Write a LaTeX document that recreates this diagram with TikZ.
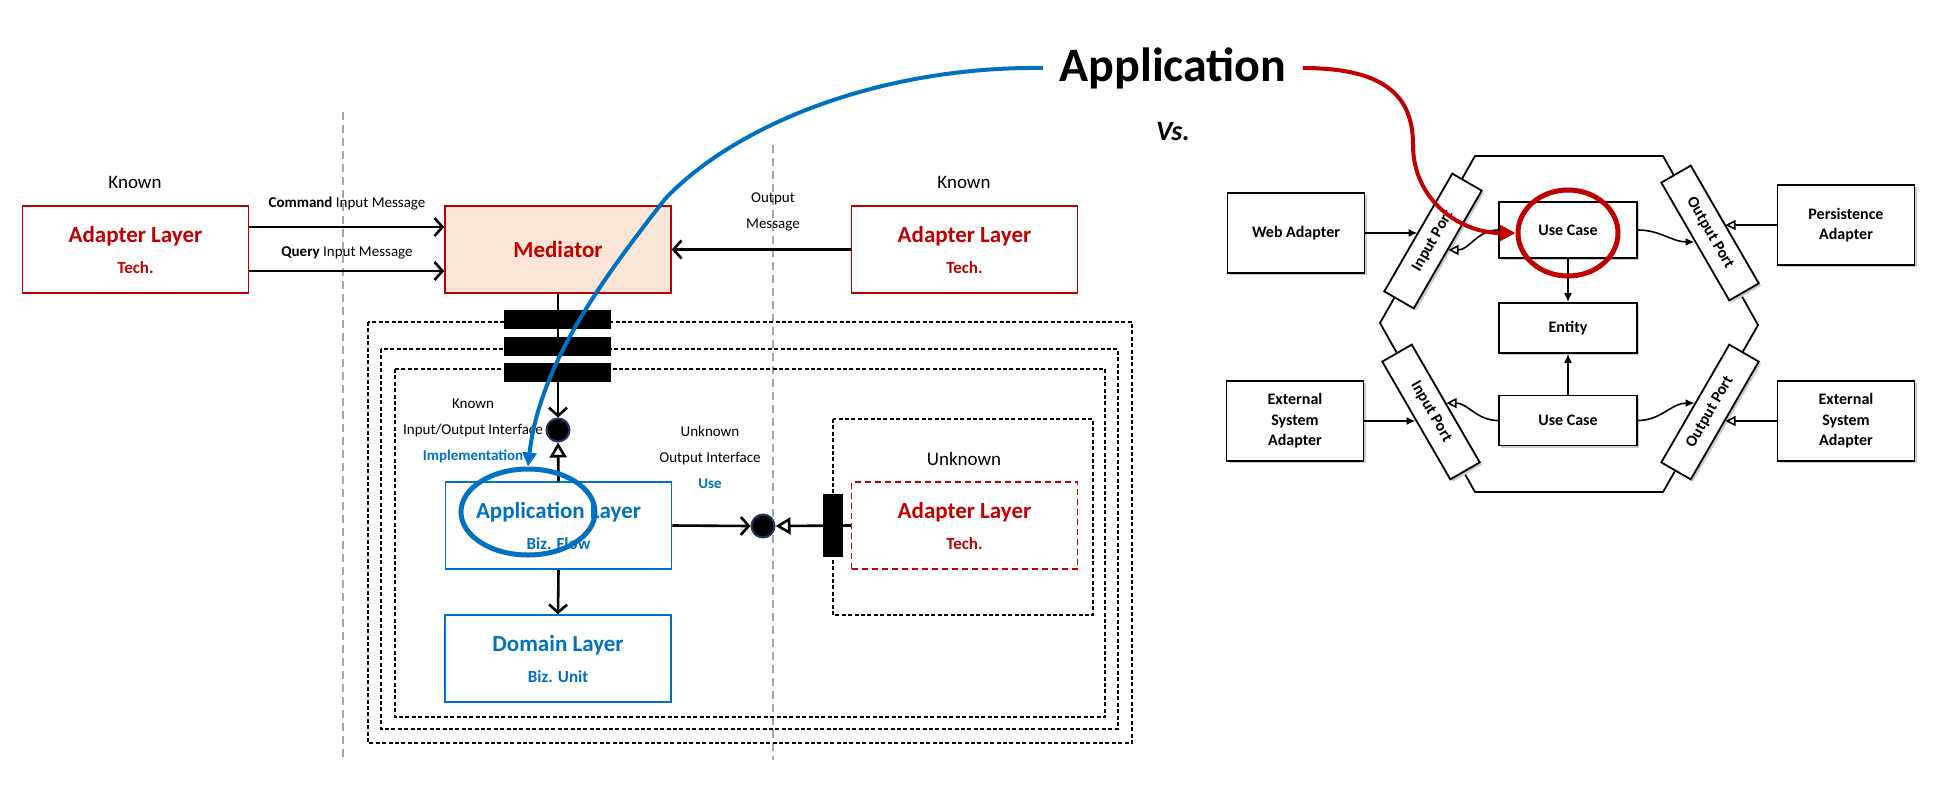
\documentclass[tikz,border=0pt]{standalone}
\usepackage{fontspec}
\setmainfont{Carlito}
\usepackage{tikz}
\usetikzlibrary{arrows.meta, shapes.geometric, shadows}

\definecolor{layerred}{HTML}{C00000}
\definecolor{layerblue}{HTML}{0070C0}
\definecolor{medfill}{HTML}{FBE5D6}
\definecolor{portnavy}{HTML}{203864}

\begin{document}
\begin{tikzpicture}[x=0.5pt, y=-0.5pt,
    layer/.style = {draw, line width=0.75pt, minimum width=113pt, minimum height=43.5pt, align=center, font=\bfseries\fontsize{11.5}{15.5}\selectfont},
    redlayer/.style = {layer, draw=layerred, text=layerred},
    bluelayer/.style = {layer, draw=layerblue, text=layerblue},
    ring/.style = {line width=0.6pt, dash pattern=on 2pt off 1.2pt},
    split/.style = {black!35, line width=0.7pt, dash pattern=on 4pt off 2.5pt},
    lbl/.style = {font=\fontsize{7.5}{13}\selectfont, align=center},
    zone/.style = {font=\fontsize{9.5}{11}\selectfont},
    bar/.style = {fill=black, inner sep=0pt, minimum width=53.5pt, minimum height=9.5pt},
    iface/.style = {circle, draw=portnavy, line width=1pt, fill=black, minimum size=11.5pt, inner sep=0pt},
    msg/.style = {line width=1.3pt, -{Straight Barb[length=4pt, width=9pt]}},
    impl/.style = {line width=1.3pt, -{Triangle[open, length=7.5pt, width=8.5pt]}},
    hexbox/.style = {draw, fill=white, line width=0.9pt, minimum width=68.5pt, minimum height=40pt, align=center, font=\bfseries\fontsize{8}{10.25}\selectfont, drop shadow={shadow xshift=1.2pt, shadow yshift=-1.2pt, opacity=1, fill=black!20}},
    core/.style = {hexbox, minimum width=69pt, minimum height=25pt},
    port/.style = {hexbox, minimum width=68pt, minimum height=17pt, inner sep=1pt},
    call/.style = {line width=0.8pt, -{Latex[length=4.5pt, width=4pt]}},
    realize/.style = {line width=0.8pt, -{Triangle[open, length=5pt, width=5pt]}}]
    \useasboundingbox (0,0) rectangle (1955,804);

    \draw[split] (343,112) -- (343,760);
    \draw[split] (773,145) -- (773,760);

    \draw[ring] (368,322) rectangle (1132,743);
    \draw[ring] (381,349) rectangle (1118,729);
    \draw[ring] (395,369) rectangle (1105,717);
    \draw[ring] (833,419) rectangle (1093,615);

    \node[zone] (knownL) at (135,182) {Known};
    \node[zone] (knownR) at (964,182) {Known};
    \node[zone] (unknown) at (964,459) {Unknown};

    \node[redlayer] (adL) at (135.5,249.5) {Adapter Layer\\{\fontsize{8.5}{10}\selectfont Tech.}};
    \node[redlayer, fill=medfill] (med) at (558,249.5) {Mediator};
    \node[redlayer] (adR) at (964.5,249.5) {Adapter Layer\\{\fontsize{8.5}{10}\selectfont Tech.}};
    \node[bluelayer] (app) at (558.5,525.5) {Application Layer\\{\fontsize{8.5}{10}\selectfont Biz. Flow}};
    \node[bluelayer] (dom) at (558,658.5) {Domain Layer\\{\fontsize{8.5}{10}\selectfont Biz. Unit}};
    \node[redlayer, dash pattern=on 3pt off 2pt] (adU) at (964.5,525.5) {Adapter Layer\\{\fontsize{8.5}{10}\selectfont Tech.}};

    \node[lbl] (cmdMsg) at (347,204) {\textbf{Command} Input Message};
    \node[lbl] (qryMsg) at (347,253) {\textbf{Query} Input Message};
    \node[lbl] (outMsg) at (773,212) {Output\\Message};
    \node[lbl] (ioIf) at (473,431) {Known\\Input/Output Interface\\\textcolor{layerblue}{\bfseries Implementation}};
    \node[lbl] (outIf) at (710,457) {Unknown\\Output Interface\\\textcolor{layerblue}{\bfseries Use}};

    \node[iface] (c1) at (558,430) {};
    \node[iface] (c2) at (763,526) {};

    \draw[msg] ([yshift=11.25pt]adL.east) -- ([yshift=11.25pt]med.west);
    \draw[msg] ([yshift=-10.75pt]adL.east) -- ([yshift=-10.75pt]med.west);
    \draw[msg] (adR.west) -- (med.east);
    \draw[msg] (med.south) -- (c1.north);
    \draw[impl] (app.north) -- (c1.south);
    \draw[msg] (app.east) -- (c2.west);
    \draw[impl] (adU.west) -- (c2.east);
    \draw[msg] (app.south) -- (dom.north);

    \node[bar] (gate1) at (557.5,319) {};
    \node[bar] (gate2) at (557.5,346) {};
    \node[bar] (gate3) at (557.5,372) {};
    \node[bar, minimum width=10pt, minimum height=31.5pt] (gate4) at (833,525.5) {};

    % hexagon
    \draw[line width=0.9pt] (1475,156) -- (1663,156) -- (1758,325) -- (1663,492) -- (1475,492) -- (1380,323) -- cycle;

    \node[hexbox] (web) at (1296,233) {Web Adapter};
    \node[hexbox] (extL) at (1295,421) {External\\System\\Adapter};
    \node[hexbox] (pers) at (1846,225) {Persistence\\Adapter};
    \node[hexbox] (extR) at (1846,421) {External\\System\\Adapter};
    \node[core, minimum height=28pt] (uc1) at (1568,230) {Use Case};
    \node[core] (ent) at (1568,328) {Entity};
    \node[core] (uc2) at (1568,420.5) {Use Case};
    \node[port, rotate=60] (inTop) at (1433,241) {Input Port};
    \node[port, rotate=-60] (inBot) at (1431,412) {Input Port};
    \node[port, rotate=-60] (outTop) at (1710,233) {Output Port};
    \node[port, rotate=60] (outBot) at (1710,412) {Output Port};

    \draw[call] (web.east) -- (web.east -| inTop.north);
    \draw[call] (extL.east) -- (extL.east -| inBot.south);
    \draw[realize] (pers.west) -- (pers.west -| outTop.north);
    \draw[realize] (extR.west) -- (extR.west -| outBot.south);
    \draw[call] (uc1.south) -- (ent.north);
    \draw[call] (uc2.north) -- (ent.south);
    \draw[realize] (uc1.west) to[out=180, in=0] (inTop.south);
    \draw[realize] (uc2.west) to[out=180, in=0] (inBot.north);
    \draw[call] (uc1.east) to[out=0, in=180] (outTop.south);
    \draw[call] (uc2.east) to[out=0, in=180] (outBot.north);

    % title and pointers
    \node[font=\bfseries\fontsize{24}{28}\selectfont, inner sep=8pt] (title) at (1173,68) {Application};
    \node[font=\bfseries\itshape\fontsize{14}{16}\selectfont] (vs) at (1173,132) {Vs.};

    \node[ellipse, draw=layerblue, line width=2.5pt, minimum width=67pt, minimum height=43pt] (appRing) at (528,512) {};
    \node[ellipse, draw=layerred, line width=2.5pt, minimum width=50pt, minimum height=43pt] (ucRing) at (1568,233) {};

    \draw[layerblue, line width=2pt, -{Triangle[length=7pt, width=7pt]}] (title.west) .. controls (880,66) and (735,125) .. (665,199) .. controls (610,270) and (540,360) .. (appRing.north);
    \draw[layerred, line width=2pt, -{Triangle[length=8pt, width=8pt]}] (title.east) .. controls (1390,68) and (1413,100) .. (1413,145) .. controls (1413,200) and (1460,233) .. (ucRing.west);
\end{tikzpicture}
\end{document}
